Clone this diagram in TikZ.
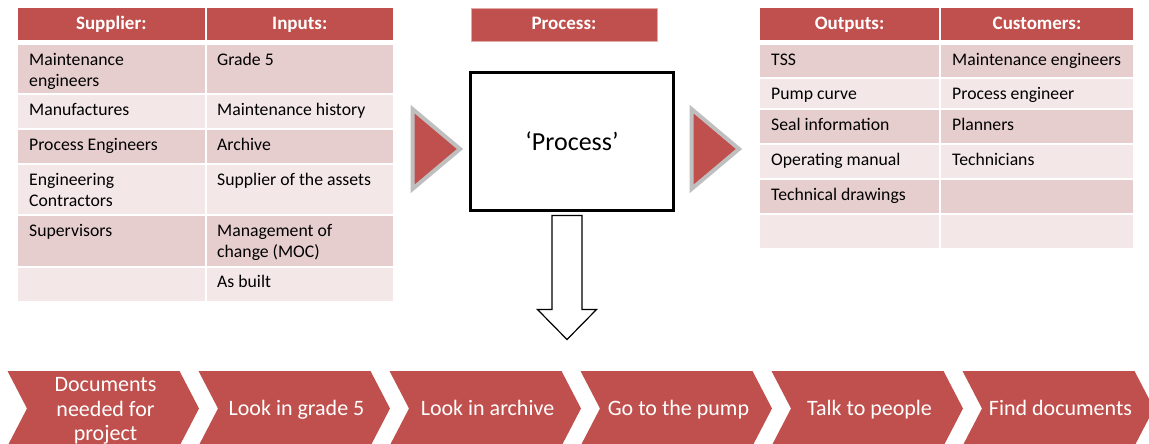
\documentclass[tikz,border=0pt]{standalone}
\usepackage{fontspec}
\setmainfont{Carlito}
\usetikzlibrary{calc}

\definecolor{accent}{RGB}{192,80,77}
\definecolor{banddark}{RGB}{231,206,206}
\definecolor{bandlight}{RGB}{243,231,231}
\definecolor{tipgray}{RGB}{191,191,191}
\definecolor{headedge}{RGB}{226,170,168}

\tikzset{
  cellbg/.style={draw=white, line width=2pt},
  headtxt/.style={anchor=base, text=white, inner sep=0pt,
    font=\fontsize{19}{23}\selectfont\bfseries},
  celltxt/.style={anchor=north west, inner sep=0pt, align=left,
    font=\fontsize{17.7}{21}\selectfont},
  chevron/.style={fill=accent},
  chevtxt/.style={text=white, inner sep=0pt, align=center,
    font=\fontsize{22}{24.5}\selectfont},
  feed/.style={draw=tipgray, line width=4pt, fill=accent, line join=miter},
  procbox/.style={draw=black, line width=3pt, minimum width=203pt,
    minimum height=138pt, inner sep=0pt, font=\fontsize{26}{30}\selectfont},
  blockarrow/.style={draw=black, fill=white, line width=1.2pt, line join=miter},
}

\begin{document}
\begin{tikzpicture}[x=1pt,y=-1pt]
\useasboundingbox (0,0) rectangle (1149,444);
\clip (0,0) rectangle (1149,444);

% ---------- left table: suppliers and inputs ----------
\draw[cellbg, fill=accent] (17,7) rectangle (205.5,41);
\draw[cellbg, fill=accent] (205.5,7) rectangle (394,41);
\node[headtxt] (hsup) at (111.25,30) {Supplier:};
\node[headtxt] (hinp) at (299.75,30) {Inputs:};

\foreach \ya/\yb/\c in {44/94/banddark, 94/129/bandlight, 129/164/banddark,
                        164/215/bandlight, 215/266.5/banddark, 266.5/302/bandlight}{
  \draw[cellbg, fill=\c] (17,\ya) rectangle (205.5,\yb);
  \draw[cellbg, fill=\c] (205.5,\ya) rectangle (394,\yb);
}
\node[celltxt] (s1) at (29,50.3)  {\strut Maintenance\\engineers};
\node[celltxt] (s2) at (29,100.3) {\strut Manufactures};
\node[celltxt] (s3) at (29,135.3) {\strut Process Engineers};
\node[celltxt] (s4) at (29,170.3) {\strut Engineering\\Contractors};
\node[celltxt] (s5) at (29,221.3) {\strut Supervisors};
\node[celltxt] (i1) at (217,50.3)  {\strut Grade 5};
\node[celltxt] (i2) at (217,100.3) {\strut Maintenance history};
\node[celltxt] (i3) at (217,135.3) {\strut Archive};
\node[celltxt] (i4) at (217,170.3) {\strut Supplier of the assets};
\node[celltxt] (i5) at (217,221.3) {\strut Management of\\change (MOC)};
\node[celltxt] (i6) at (217,272.8) {\strut As built};

% ---------- process ----------
\draw[fill=accent, draw=headedge, line width=0.6pt] (471,8) rectangle (657,41);
\node[headtxt] (hproc) at (564,30) {Process:};
\node[procbox] (proc) at (572,141.5) {‘Process’};

% feed triangles into and out of the process
\draw[feed] (412.5,109) -- (412.5,189) -- (460,149) -- cycle;
\draw[feed] (691.5,109) -- (691.5,189) -- (739,149) -- cycle;

% hollow arrow down to the steps
\draw[blockarrow] ($(proc.south)+(-20,3.5)$) -- ++(30,0) -- ++(0,94)
  -- ++(14.5,0) -- ++(-29.5,30) -- ++(-29.5,-30) -- ++(14.5,0) -- cycle;

% ---------- right table: outputs and customers ----------
\draw[cellbg, fill=accent] (759,7) rectangle (940,41);
\draw[cellbg, fill=accent] (940,7) rectangle (1134,41);
\node[headtxt] (hout) at (849.5,30) {Outputs:};
\node[headtxt] (hcus) at (1037,30) {Customers:};

\foreach \ya/\yb/\c in {44/78/banddark, 78/109/bandlight, 109/144/banddark,
                        144/179/bandlight, 179/214/banddark, 214/249/bandlight}{
  \draw[cellbg, fill=\c] (759,\ya) rectangle (940,\yb);
  \draw[cellbg, fill=\c] (940,\ya) rectangle (1134,\yb);
}
\node[celltxt] (o1) at (771,50.3)  {\strut TSS};
\node[celltxt] (o2) at (771,84.3)  {\strut Pump curve};
\node[celltxt] (o3) at (771,115.3) {\strut Seal information};
\node[celltxt] (o4) at (771,150.3) {\strut Operating manual};
\node[celltxt] (o5) at (771,185.3) {\strut Technical drawings};
\node[celltxt] (c1) at (952,50.3)  {\strut Maintenance engineers};
\node[celltxt] (c2) at (952,84.3)  {\strut Process engineer};
\node[celltxt] (c3) at (952,115.3) {\strut Planners};
\node[celltxt] (c4) at (952,150.3) {\strut Technicians};

% ---------- chevron steps ----------
\foreach \i in {0,...,5}{
  \fill[chevron] (7.5+191*\i,371) -- ++(172,0) -- ++(19.5,37.5) -- ++(-19.5,37.5)
    -- ++(-172,0) -- ++(19.5,-37.5) -- cycle;
}
\node[chevtxt] (ch1) at (105.5,411) {Documents\\needed for\\project};
\node[chevtxt, anchor=base] (ch2) at (296.5,415.7) {Look in grade 5};
\node[chevtxt, anchor=base] (ch3) at (487.5,415.7) {Look in archive};
\node[chevtxt, anchor=base] (ch4) at (678.5,415.7) {Go to the pump};
\node[chevtxt, anchor=base] (ch5) at (869.5,415.7) {Talk to people};
\node[chevtxt, anchor=base] (ch6) at (1060.5,415.7) {Find documents};
\end{tikzpicture}
\end{document}
